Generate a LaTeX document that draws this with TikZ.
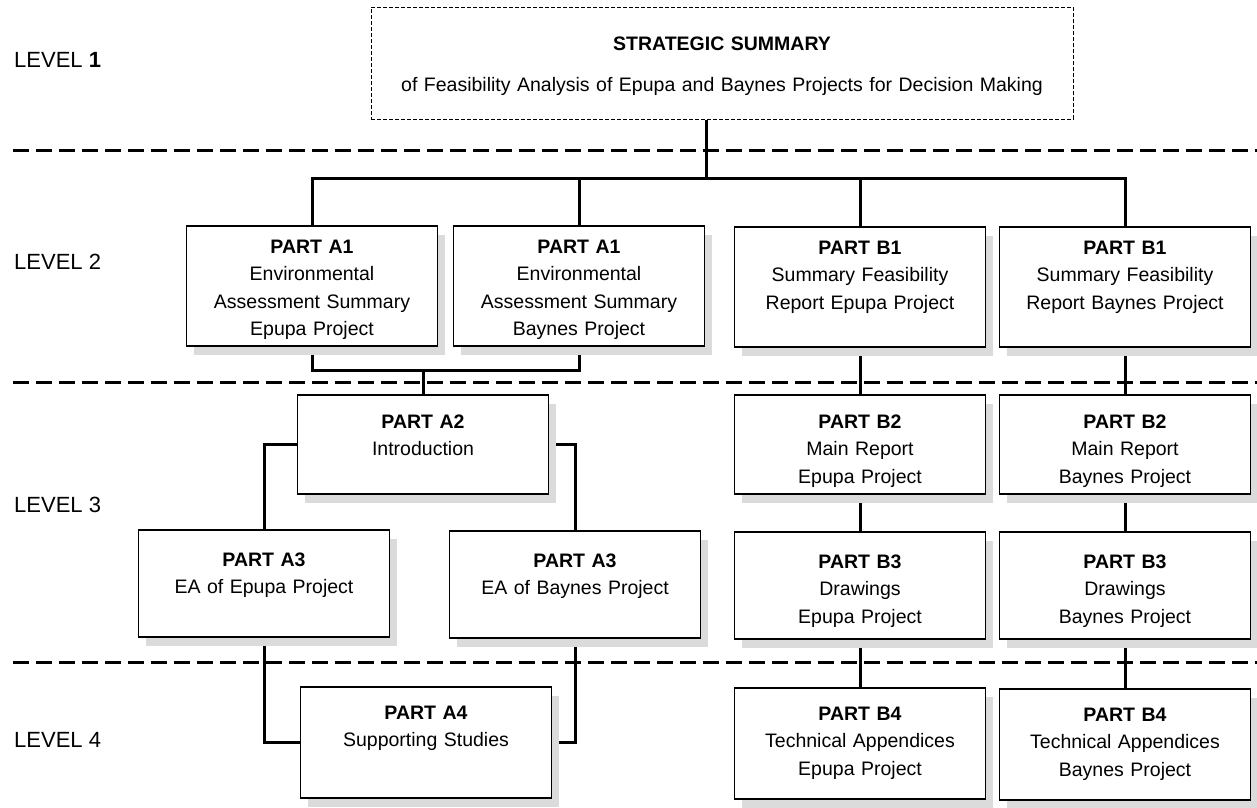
\documentclass[tikz,border=0pt]{standalone}
\usepackage{fontspec}
\setmainfont{Liberation Sans}
\usepackage{tikz}
\usetikzlibrary{shadows,backgrounds}

\begin{document}
\begin{tikzpicture}[x=1pt, y=-1pt]
	\useasboundingbox (0,0) rectangle (1257,807);
	% Define styles
	\tikzstyle{part}=[rectangle, draw=black, line width=1.5pt, fill=white, inner sep=0pt, outer sep=0pt, anchor=north, text width=251pt, align=center, font=\fontsize{19.5}{27.5}\selectfont, drop shadow={shadow xshift=7pt, shadow yshift=-9pt, fill=black!14, opacity=1}]
	\tikzstyle{rowtwo}=[part, text height=27pt, text depth=93pt]
	\tikzstyle{rowthree}=[part, text height=33pt, text depth=66pt]
	\tikzstyle{rowthreelow}=[part, text height=36pt, text depth=71pt]
	\tikzstyle{rowfour}=[part, text height=32pt, text depth=79pt]
	\tikzstyle{summary}=[rectangle, draw=black, line width=0.8pt, dash pattern=on 4pt off 2pt, fill=white, inner sep=0pt, anchor=north, text width=702pt, align=center, text height=43pt, text depth=69pt, font=\fontsize{19.5}{27.5}\selectfont]
	\tikzstyle{level}=[anchor=west, inner sep=0pt, font=\fontsize{22}{26}\selectfont]
	\tikzstyle{levelline}=[line width=3pt, dash pattern=on 16pt off 7pt]
	\tikzstyle{link}=[line width=3pt]

	% level names
	\node[level] (lvone) at (14,60) {LEVEL \textbf{1}};
	\node[level] (lvtwo) at (14,262) {LEVEL 2};
	\node[level] (lvthree) at (14,505) {LEVEL 3};
	\node[level] (lvfour) at (14,740) {LEVEL 4};

	% level 1
	\node[summary] (top) at (722,7) {\textbf{STRATEGIC SUMMARY}\\[14pt]of Feasibility Analysis of Epupa and Baynes Projects for Decision Making};

	% level 2
	\node[rowtwo] (a1e) at (312,226) {\textbf{PART A1}\\Environmental\\Assessment Summary\\Epupa Project};
	\node[rowtwo] (a1b) at (579,226) {\textbf{PART A1}\\Environmental\\Assessment Summary\\Baynes Project};
	\node[rowtwo] (b1e) at (860,227) {\textbf{PART B1}\\Summary Feasibility\\Report Epupa Project};
	\node[rowtwo] (b1b) at (1125,227) {\textbf{PART B1}\\Summary Feasibility\\Report Baynes Project};

	% level 3
	\node[rowthree] (a2) at (423,395) {\textbf{PART A2}\\Introduction};
	\node[rowthree] (b2e) at (860,395) {\textbf{PART B2}\\Main Report\\Epupa Project};
	\node[rowthree] (b2b) at (1125,395) {\textbf{PART B2}\\Main Report\\Baynes Project};
	\node[rowthreelow] (a3e) at (264,530) {\textbf{PART A3}\\EA of Epupa Project};
	\node[rowthreelow] (a3b) at (575,531) {\textbf{PART A3}\\EA of Baynes Project};
	\node[rowthreelow] (b3e) at (860,532) {\textbf{PART B3}\\Drawings\\Epupa Project};
	\node[rowthreelow] (b3b) at (1125,532) {\textbf{PART B3}\\Drawings\\Baynes Project};

	% level 4
	\node[rowfour] (a4) at (426,687) {\textbf{PART A4}\\Supporting Studies};
	\node[rowfour] (b4e) at (860,688) {\textbf{PART B4}\\Technical Appendices\\Epupa Project};
	\node[rowfour] (b4b) at (1125,689) {\textbf{PART B4}\\Technical Appendices\\Baynes Project};

	\coordinate (hub) at (706,178);

	\begin{scope}[on background layer]
		\draw[levelline] (13,150) -- (1257,150);
		\draw[levelline] (13,382) -- (1257,382);
		\draw[levelline] (13,662) -- (1257,662);

		\draw[link] (top.south -| hub) -- (hub);
		\draw[link] (a1e.north) |- (b1b.north |- hub) -- (b1b.north);
		\draw[link] (a1b.north) -- (a1b.north |- hub);
		\draw[link] (b1e.north) -- (b1e.north |- hub);

		\draw[link] (a1e.south) -- ++(0,24) -| (a1b.south);
		\draw[link] (a2.north) -- ++(0,-25);
		\draw[link] (a2.west) -| (a3e.north);
		\draw[link] (a2.east) -| (a3b.north);
		\draw[link] (a3e.south) |- (a4.west);
		\draw[link] (a3b.south) |- (a4.east);

		\draw[link] (b1e.south) -- (b2e.north) (b2e.south) -- (b3e.north) (b3e.south) -- (b4e.north);
		\draw[link] (b1b.south) -- (b2b.north) (b2b.south) -- (b3b.north) (b3b.south) -- (b4b.north);
	\end{scope}
\end{tikzpicture}
\end{document}
